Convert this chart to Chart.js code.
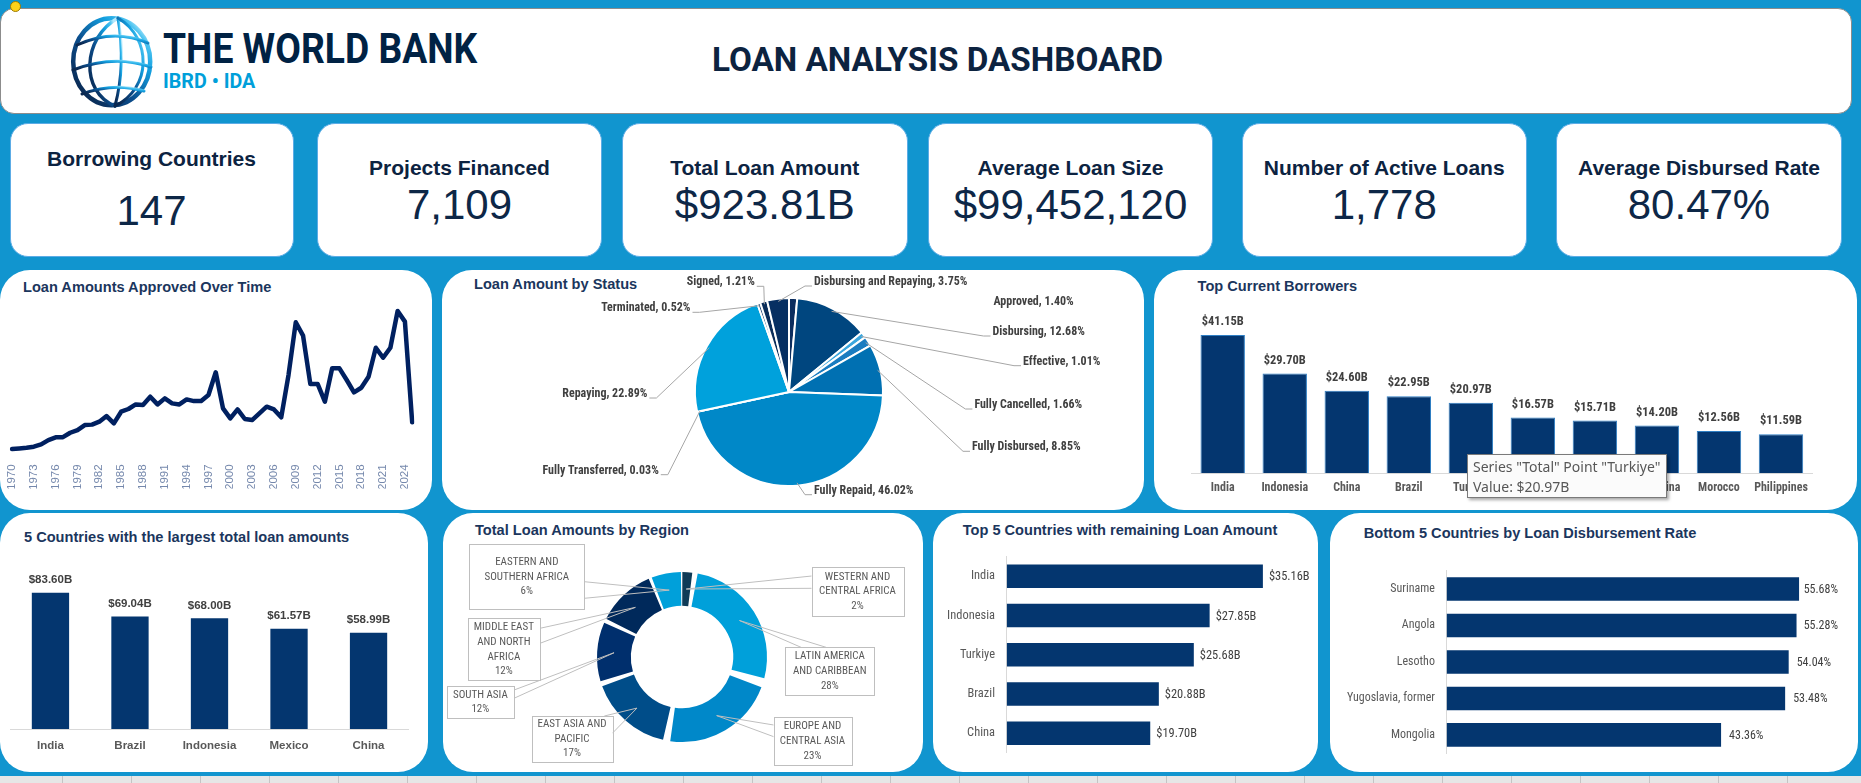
<!DOCTYPE html>
<html>
<head>
<meta charset="utf-8">
<title>Loan Analysis Dashboard</title>
<script src="https://cdn.jsdelivr.net/npm/chart.js@4.4.1/dist/chart.umd.min.js"></script>
<style>
html,body{margin:0;padding:0;}
body{width:1861px;height:783px;background:#1195cf;position:relative;overflow:hidden;font-family:'Liberation Sans',Arial,sans-serif;}
.panel{position:absolute;background:#fff;border-radius:30px;}
.kpi{position:absolute;background:#fff;border-radius:18px;border:1.5px solid #5cace6;box-sizing:border-box;top:123px;height:134px;}
.kpi .t{position:absolute;left:0;right:0;text-align:center;font-weight:bold;font-size:21px;line-height:24px;color:#0c2341;white-space:nowrap;}
.kpi .v{position:absolute;left:0;right:0;text-align:center;font-size:42px;line-height:48px;color:#0d2747;white-space:nowrap;}
.ptitle{position:absolute;font-weight:bold;font-size:14.6px;line-height:17px;color:#1b365d;white-space:nowrap;}
canvas{position:absolute;}
#header{position:absolute;left:0;top:8px;width:1852px;height:106px;background:#fff;border:1px solid #8c8c8c;border-radius:14px;box-sizing:border-box;}
.fit{position:absolute;white-space:nowrap;transform-origin:0 0;}
#tip{position:absolute;left:1467px;top:454px;width:200px;height:44px;background:#fbfbfb;border:1px solid #7a7a7a;box-shadow:2px 2px 3px rgba(0,0,0,0.35);box-sizing:border-box;font-family:'Noto Sans','Open Sans',sans-serif;font-size:14px;color:#575757;}
#tip div{position:absolute;left:5px;white-space:nowrap;line-height:18px;}
#strip{position:absolute;left:0;top:776px;width:1861px;height:7px;background-color:#e6e6e6;background-image:repeating-linear-gradient(to right, transparent 0 68px, #c4c4c4 68px 69px);background-position:-6px 0;}
#dot{position:absolute;left:10px;top:1px;width:11px;height:11px;border-radius:50%;background:#ffd21a;border:1px solid #9c7a00;box-sizing:border-box;}
</style>
</head>
<body>
<div id="header"></div>
<svg style="position:absolute;left:60px;top:8px" width="110" height="106" viewBox="0 0 110 106">
  <defs>
    <linearGradient id="gg" x1="0.1" y1="0.9" x2="0.9" y2="0.1">
      <stop offset="0" stop-color="#0a2850"/>
      <stop offset="0.4" stop-color="#0b4d8c"/>
      <stop offset="0.75" stop-color="#139fdf"/>
      <stop offset="0.92" stop-color="#4cc4f1"/>
      <stop offset="1" stop-color="#b5e8fb"/>
    </linearGradient>
  </defs>
  <g fill="none" stroke="url(#gg)" stroke-linecap="round">
    <ellipse cx="51.7" cy="53.7" rx="38.5" ry="43.5" stroke-width="4.5"/>
    <path d="M58 10 C 22 30, 20 84, 55 98" stroke-width="3.4"/>
    <path d="M58 10 C 63 40, 62 72, 55 98" stroke-width="3"/>
    <path d="M58 10 C 92 30, 92 80, 55 98" stroke-width="3"/>
    <path d="M17 37 Q 54 20 88 35" stroke-width="3"/>
    <path d="M13 62 Q 54 46 91 59" stroke-width="3"/>
    <path d="M22 86 Q 54 74 84 83" stroke-width="3"/>
  </g>
</svg>
<div id="wb" class="fit" style="left:163px;top:24.6px;font-family:Roboto,'Liberation Sans',sans-serif;font-weight:bold;font-size:42px;line-height:48px;color:#002244;">THE WORLD BANK</div>
<div id="ibrd" class="fit" style="left:163px;top:68.8px;font-family:Roboto,'Liberation Sans',sans-serif;font-weight:bold;font-size:21px;line-height:24px;color:#009fda;">IBRD • IDA</div>
<div id="dtitle" class="fit" style="left:712px;top:41.4px;font-family:Roboto,'Liberation Sans',sans-serif;font-weight:bold;font-size:33px;line-height:38px;color:#0c2340;">LOAN ANALYSIS DASHBOARD</div>
<div id="dot"></div>
<div id="strip"></div>

<script>
// ---------------- DATA ----------------
const kpiTitles = ['Borrowing Countries','Projects Financed','Total Loan Amount','Average Loan Size','Number of Active Loans','Average Disbursed Rate'];
const kpiValues = ['147','7,109','$923.81B','$99,452,120','1,778','80.47%'];

const years = ['1970','1971','1972','1973','1974','1975','1976','1977','1978','1979',
  '1980','1981','1982','1983','1984','1985','1986','1987','1988','1989',
  '1990','1991','1992','1993','1994','1995','1996','1997','1998','1999',
  '2000','2001','2002','2003','2004','2005','2006','2007','2008','2009',
  '2010','2011','2012','2013','2014','2015','2016','2017','2018','2019',
  '2020','2021','2022','2023','2024','2025'];
const approvedB = [4.5,4.8,5.1,5.6,6.7,8.8,10.1,10.2,12.3,13.6,
  16.0,16.2,17.6,20.3,16.8,22.4,23.7,25.9,25.6,29.6,
  25.9,28.8,26.4,25.9,28.3,27.5,27.5,30.4,41.3,24.0,
  19.2,23.5,18.9,18.4,21.6,24.8,23.5,19.7,40.0,65.3,
  58.9,35.7,35.7,27.2,43.2,43.2,37.6,31.7,33.9,39.2,
  53.1,48.3,53.1,70.7,65.6,17.3];

const statusNames = ['Approved','Disbursing','Effective','Fully Cancelled','Fully Disbursed','Fully Repaid','Fully Transferred','Repaying','Terminated','Signed','Disbursing and Repaying'];
const statusShare = [1.40,12.68,1.01,1.66,8.85,46.02,0.03,22.89,0.52,1.21,3.75];

const borrowers = ['India','Indonesia','China','Brazil','Turkiye','Colombia','Egypt','Argentina','Morocco','Philippines'];
const borrowerAmtB = [41.15,29.70,24.60,22.95,20.97,16.57,15.71,14.20,12.56,11.59];

const top5Countries = ['India','Brazil','Indonesia','Mexico','China'];
const top5AmtB = [83.60,69.04,68.00,61.57,58.99];

const regions = ['WESTERN AND CENTRAL AFRICA','LATIN AMERICA AND CARIBBEAN','EUROPE AND CENTRAL ASIA','EAST ASIA AND PACIFIC','SOUTH ASIA','MIDDLE EAST AND NORTH AFRICA','EASTERN AND SOUTHERN AFRICA'];
const regionShare = [2,28,23,17,12,12,6];

const remainCountries = ['India','Indonesia','Turkiye','Brazil','China'];
const remainAmtB = [35.16,27.85,25.68,20.88,19.70];

const bottomCountries = ['Suriname','Angola','Lesotho','Yugoslavia, former','Mongolia'];
const bottomRate = [55.68,55.28,54.04,53.48,43.36];

// ---------------- LAYOUT / STYLE ----------------
const NAVY = '#04366f';
const ARIAL = "'Liberation Sans',Arial,sans-serif";
const fmtB = v => '$' + v.toFixed(2) + 'B';

// pick a narrow font that is installed; otherwise shrink the regular one
function pickNarrow(){
  const c=document.createElement('canvas').getContext('2d');
  const test='Disbursing and Repaying 3.75% ABC';
  c.font='20px '+ARIAL; const base=c.measureText(test).width;
  const cands=[['',"'Liberation Sans Narrow'"],['',"'Arial Narrow'"],['',"'Roboto Condensed'"],['',"'DejaVu Sans Condensed'"],
               ['condensed',"'Noto Sans'"],['condensed',"'Open Sans'"],['semi-condensed',"'Noto Sans'"],['condensed',"'Roboto'"]];
  for (const [st,fam] of cands){
    c.font='20px monospace'; const mono=c.measureText(test).width;
    c.font=(st?st+' ':'')+'20px '+fam+', monospace';
    const w=c.measureText(test).width;
    if (Math.abs(w-mono)<0.01) continue;
    if (st){ c.font='20px monospace'; c.font='20px '+fam+', monospace'; const wn=c.measureText(test).width; if (w>=wn-0.5) continue; }
    const r=w/base; if (r<0.95) return {st:st, fam:fam+", 'Liberation Sans', sans-serif", r:r};
  }
  return {st:'', fam:ARIAL, r:1};
}
const NF = pickNarrow();
const nSize = s => +(s*Math.min(1.06, 0.82/NF.r)).toFixed(2);
const nWeight = w => (NF.st ? NF.st+' ' : '') + w;
const nFont = (w,s) => nWeight(w)+' '+nSize(s)+'px '+NF.fam;
const nOpt = (w,s) => ({family:NF.fam, size:nSize(s), weight:nWeight(w)});

const kpiBoxes = [[9.5,293.5],[317,602],[622,907.5],[928,1213],[1242,1526.5],[1556,1842]];
const kpiTitleTop = [22.5,31.5,31.5,31.5,31.5,31.5];
const kpiValueTop = [63,57,57,57,57,57];

const panels = [[0,270,432,240],[442,270,702,240],[1154,270,703,240],[0,513,428,259],[443,513,480,259],[933,513,385,259],[1330,513,528,259]];
const titles = [
  ['Loan Amounts Approved Over Time',23,287],
  ['Loan Amount by Status',474,284],
  ['Top Current Borrowers',1197.6,286],
  ['5 Countries with the largest total loan amounts',24,536.7],
  ['Total Loan Amounts by Region',475,530],
  ['Top 5 Countries with remaining Loan Amount',962.7,530],
  ['Bottom 5 Countries by Loan Disbursement Rate',1363.8,532.7]
];

const statusColors = ['#0b2d5e','#00467f','#3aa6de','#1a7cc0','#0070b2','#0088c8','#2b8fd0','#00a1dc','#123a6b','#0a2d5a','#062f62'];
const statusLabelPos = [
  {x:551.5,y:32,align:'left',line:false},
  {x:550.5,y:62,align:'left',line:true},
  {x:581,y:91.7,align:'left',line:true},
  {x:532.4,y:135,align:'left',line:true},
  {x:530,y:177.3,align:'left',line:true},
  {x:372,y:220.7,align:'left',line:true},
  {x:216.8,y:200.7,align:'right',line:true},
  {x:205.4,y:124,align:'right',line:true},
  {x:248.5,y:38.3,align:'right',line:true},
  {x:312.8,y:12.3,align:'right',line:true},
  {x:372,y:12,align:'left',line:true}
];

const regionColors = ['#0f3b57','#00a0da','#0088c9','#004d89','#002f6d','#00295b','#00a0da'];
const regionLines = [['WESTERN AND','CENTRAL AFRICA'],['LATIN AMERICA','AND CARIBBEAN'],['EUROPE AND','CENTRAL ASIA'],['EAST ASIA AND','PACIFIC'],['SOUTH ASIA'],['MIDDLE EAST','AND NORTH','AFRICA'],['EASTERN AND','SOUTHERN AFRICA']];
const regionBoxes = [
  {x:368.7,y:54.3,w:91.6,h:48.7,p1:[368.7,63],p2:[368.7,75.3]},
  {x:342.3,y:134.3,w:89,h:48,p1:[358,134.3],p2:[383,134.3]},
  {x:330.7,y:204.3,w:77.6,h:48,p1:[330.7,212],p2:[330.7,223.7]},
  {x:88.7,y:203,w:80.6,h:46,p1:[161.3,203],p2:[169.3,220.3]},
  {x:3.7,y:173,w:67.3,h:32.3,p1:[71,177],p2:[71,185.3]},
  {x:24.7,y:105.3,w:72.3,h:62.4,p1:[97,115.3],p2:[97,130.3]},
  {x:26.3,y:31.3,w:115,h:65,p1:[141.3,68.7],p2:[141.3,85.3]}
];

// ---------------- HTML PARTS ----------------
function fit(id, w){ const el=document.getElementById(id); el.style.transform='scaleX('+(w/el.offsetWidth)+')'; }
fit('wb',314); fit('ibrd',92); fit('dtitle',451);

kpiTitles.forEach((t,i)=>{
  const d=document.createElement('div'); d.className='kpi';
  d.style.left=kpiBoxes[i][0]+'px'; d.style.width=(kpiBoxes[i][1]-kpiBoxes[i][0])+'px';
  const a=document.createElement('div'); a.className='t'; a.style.top=kpiTitleTop[i]+'px'; a.textContent=t;
  const b=document.createElement('div'); b.className='v'; b.style.top=kpiValueTop[i]+'px'; b.textContent=kpiValues[i];
  d.appendChild(a); d.appendChild(b); document.body.appendChild(d);
});
panels.forEach(p=>{
  const d=document.createElement('div'); d.className='panel';
  d.style.left=p[0]+'px'; d.style.top=p[1]+'px'; d.style.width=p[2]+'px'; d.style.height=p[3]+'px';
  document.body.appendChild(d);
});
titles.forEach(t=>{
  const d=document.createElement('div'); d.className='ptitle'; d.textContent=t[0];
  d.style.left=t[1]+'px'; d.style.top=(t[2]-8.1)+'px'; document.body.appendChild(d);
});
function mk(left,top,w,h){ const c=document.createElement('canvas'); c.width=w; c.height=h; c.style.left=left+'px'; c.style.top=top+'px'; c.style.width=w+'px'; c.style.height=h+'px'; document.body.appendChild(c); return c; }

// ---------------- CHARTS ----------------
Chart.defaults.animation = false;
Chart.defaults.responsive = false;
Chart.defaults.devicePixelRatio = 1;
Chart.defaults.plugins.legend.display = false;
Chart.defaults.plugins.tooltip.enabled = false;
Chart.defaults.font.family = ARIAL;

function vLabels(font,color,gap){
  return {id:'vlab',afterDatasetsDraw(chart){
    const ctx=chart.ctx, meta=chart.getDatasetMeta(0), d=chart.data.datasets[0].data;
    ctx.save(); ctx.font=font; ctx.fillStyle=color; ctx.textAlign='center'; ctx.textBaseline='middle';
    meta.data.forEach((bar,i)=>ctx.fillText(fmtB(d[i]), bar.x, bar.y-gap));
    ctx.restore();
  }};
}
function hLabels(font,color,gap,fmt,clamp){
  return {id:'hlab',afterDatasetsDraw(chart){
    const ctx=chart.ctx, meta=chart.getDatasetMeta(0), d=chart.data.datasets[0].data;
    ctx.save(); ctx.font=font; ctx.fillStyle=color; ctx.textAlign='left'; ctx.textBaseline='middle';
    meta.data.forEach((bar,i)=>{
      const s=fmt(d[i]); const w=ctx.measureText(s).width;
      let x=bar.x+gap; if (clamp && x+w>chart.chartArea.right) x=chart.chartArea.right-w;
      ctx.fillText(s, x, bar.y+1);
    });
    ctx.restore();
  }};
}

// 1. Line chart
new Chart(mk(0,270,432,240), {
  type:'line',
  data:{labels:years, datasets:[{data:approvedB, borderColor:'#002060', borderWidth:4.5, pointRadius:0, tension:0, borderCapStyle:'round', borderJoinStyle:'round', fill:false}]},
  options:{
    layout:{padding:{left:12,right:9,top:38.3,bottom:21.6}},
    scales:{
      x:{offset:false, grid:{display:false,drawTicks:false}, border:{display:false},
         ticks:{autoSkip:false,maxRotation:90,minRotation:90,padding:6,color:'#7588ac',font:{size:11.5,family:ARIAL},
                callback:(v,i)=> (i%3===0 ? years[i] : '')},
         afterFit:s=>{s.height=30;}},
      y:{display:false,min:0,max:72}
    }
  }
});

// 2. Pie chart
const statusPlugin = {id:'statusLabels', afterDatasetsDraw(chart){
  const ctx=chart.ctx, meta=chart.getDatasetMeta(0), ds=chart.data.datasets[0];
  ctx.save(); ctx.font=nFont('bold',12.5); ctx.fillStyle='#404040'; ctx.strokeStyle='#a6a6a6'; ctx.lineWidth=1; ctx.textBaseline='middle';
  meta.data.forEach((arc,i)=>{
    const p=statusLabelPos[i];
    const txt=chart.data.labels[i]+', '+ds.data[i].toFixed(2)+'%';
    const mid=(arc.startAngle+arc.endAngle)/2;
    const sx=arc.x+Math.cos(mid)*arc.outerRadius*0.97, sy=arc.y+Math.sin(mid)*arc.outerRadius*0.97;
    if (p.line){
      const dir = p.align==='left' ? -1 : 1;
      const ex=p.x+dir*9, ey=p.y+4;
      ctx.beginPath(); ctx.moveTo(sx,sy); ctx.lineTo(ex,ey); ctx.lineTo(p.x+dir*2,ey); ctx.stroke();
    }
    ctx.textAlign=p.align; ctx.fillText(txt,p.x,p.y);
  });
  ctx.restore();
}};
new Chart(mk(442,270,702,240), {
  type:'pie',
  data:{labels:statusNames, datasets:[{data:statusShare, backgroundColor:statusColors, borderColor:'#ffffff', borderWidth:2}]},
  options:{layout:{padding:{left:252,right:260,top:27,bottom:23}}},
  plugins:[statusPlugin]
});

// 3. Top current borrowers
new Chart(mk(1154,270,703,240), {
  type:'bar',
  data:{labels:borrowers, datasets:[{data:borrowerAmtB, backgroundColor:NAVY, borderColor:'#2f7fc4', borderWidth:1, barPercentage:0.716, categoryPercentage:1}]},
  options:{
    layout:{padding:{left:37.7,right:45,top:35.3,bottom:6.7}},
    scales:{
      x:{grid:{display:false,drawTicks:false}, border:{display:true,color:'#d9d9d9'}, ticks:{autoSkip:false,maxRotation:0,minRotation:0,padding:8,color:'#595959',font:nOpt('bold',12.5)}, afterFit:s=>{s.height=30;}},
      y:{display:false,min:0,max:50}
    }
  },
  plugins:[vLabels(nFont('bold',13),'#404040',13)]
});

// 4. 5 countries largest total
new Chart(mk(0,513,428,259), {
  type:'bar',
  data:{labels:top5Countries, datasets:[{data:top5AmtB, backgroundColor:NAVY, barPercentage:0.469, categoryPercentage:1}]},
  options:{
    layout:{padding:{left:10.7,right:19.7,top:53,bottom:13}},
    scales:{
      x:{grid:{display:false,drawTicks:false}, border:{display:true,color:'#d9d9d9'}, ticks:{maxRotation:0,padding:10,color:'#595959',font:{family:ARIAL,size:11.5,weight:'bold'}}, afterFit:s=>{s.height=30;}},
      y:{display:false,min:0,max:100}
    }
  },
  plugins:[vLabels('bold 11.5px '+ARIAL,'#404040',12.7)]
});

// 5. Doughnut by region
const regionPlugin = {id:'regionLabels', afterDatasetsDraw(chart){
  const ctx=chart.ctx, meta=chart.getDatasetMeta(0), d=chart.data.datasets[0].data;
  const total=d.reduce((a,b)=>a+b,0);
  ctx.save(); ctx.strokeStyle='#bfbfbf'; ctx.lineWidth=1;
  meta.data.forEach((arc,i)=>{
    const b=regionBoxes[i]; const a=arc.tooltipPosition();
    ctx.beginPath(); ctx.moveTo(b.p1[0],b.p1[1]); ctx.lineTo(a.x,a.y); ctx.lineTo(b.p2[0],b.p2[1]); ctx.stroke();
  });
  ctx.font=nFont('normal',11.5); ctx.textAlign='center'; ctx.textBaseline='middle';
  meta.data.forEach((arc,i)=>{
    const b=regionBoxes[i];
    ctx.fillStyle='#ffffff'; ctx.fillRect(b.x,b.y,b.w,b.h);
    ctx.strokeStyle='#bfbfbf'; ctx.strokeRect(Math.round(b.x)+0.5,Math.round(b.y)+0.5,Math.round(b.w),Math.round(b.h));
    const lines=regionLines[i].concat([Math.round(d[i]/total*100)+'%']);
    ctx.fillStyle='#595959';
    lines.forEach((s,k)=>ctx.fillText(s, b.x+b.w/2, b.y+b.h/2+(k-(lines.length-1)/2)*14.7));
  });
  ctx.restore();
}};
new Chart(mk(443,513,480,259), {
  type:'doughnut',
  data:{labels:regions, datasets:[{data:regionShare, backgroundColor:regionColors, borderWidth:0, spacing:9}]},
  options:{cutout:'58%', layout:{padding:{left:154,right:156,top:59,bottom:30}}},
  plugins:[regionPlugin]
});

// 6. Top 5 remaining (horizontal)
new Chart(mk(933,513,385,259), {
  type:'bar',
  data:{labels:remainCountries, datasets:[{data:remainAmtB, backgroundColor:NAVY, barPercentage:0.6, categoryPercentage:1}]},
  options:{
    indexAxis:'y',
    layout:{padding:{left:0,right:6,top:43.7,bottom:14.7}},
    scales:{
      x:{display:false,min:0,max:41.9},
      y:{grid:{display:false,drawTicks:false}, border:{display:true,color:'#d9d9d9'}, ticks:{padding:11.7,color:'#595959',font:nOpt('normal',13)}, afterFit:s=>{s.width=73.7;}}
    }
  },
  plugins:[hLabels(nFont('normal',13),'#404040',6,fmtB,false)]
});

// 7. Bottom 5 disbursement (horizontal)
new Chart(mk(1330,513,528,259), {
  type:'bar',
  data:{labels:bottomCountries, datasets:[{data:bottomRate, backgroundColor:NAVY, barPercentage:0.645, categoryPercentage:1}]},
  options:{
    indexAxis:'y',
    layout:{padding:{left:0,right:20,top:57.7,bottom:15.3}},
    scales:{
      x:{display:false,min:0,max:61.83},
      y:{grid:{display:false,drawTicks:false}, border:{display:true,color:'#d9d9d9'}, ticks:{padding:11.7,color:'#595959',font:nOpt('normal',12.5)}, afterFit:s=>{s.width=116.6;}}
    }
  },
  plugins:[hLabels(nFont('normal',12.5),'#404040',8,v=>v.toFixed(2)+'%',true)]
});

// Tooltip overlay (as seen in the reference screenshot)
const tip=document.createElement('div'); tip.id='tip';
const t1=document.createElement('div'); t1.style.top='3px'; t1.textContent='Series "Total" Point "'+borrowers[4]+'"';
const t2=document.createElement('div'); t2.style.top='23px'; t2.textContent='Value: '+fmtB(borrowerAmtB[4]);
tip.appendChild(t1); tip.appendChild(t2); document.body.appendChild(tip);
</script>
</body>
</html>
